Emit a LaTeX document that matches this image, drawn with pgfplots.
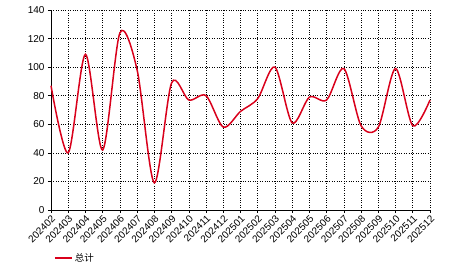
\documentclass[border=0pt]{standalone}
\usepackage{pgfplots}
\pgfplotsset{compat=1.18}
\usetikzlibrary{calc}
\usepackage{fontspec}
\setmainfont{Liberation Sans}
\newfontfamily\cjk{Noto Sans CJK SC}
\definecolor{linered}{HTML}{D9001B}
\begin{document}
\begin{tikzpicture}
\begin{axis}[
  scale only axis,
  width=379pt, height=200pt,
  xmin=0, xmax=22, ymin=0, ymax=140,
  ytick={0,20,...,140},
  xtick={0,...,22},
  xticklabels={202402,202403,202404,202405,202406,202407,202408,202409,202410,202411,202412,202501,202502,202503,202504,202505,202506,202507,202508,202509,202510,202511,202512},
  x tick label style={rotate=45, anchor=north east, font=\fontsize{10}{11}\selectfont, inner sep=1pt},
  y tick label style={font=\fontsize{10}{11}\selectfont},
  /pgf/number format/assume math mode=true,
  axis x line*=bottom, axis y line*=left,
  axis line style={black, line width=0.8pt, -},
  tick style={black, line width=0.6pt},
  tick align=outside,
  major tick length=3pt,
  grid=major,
  grid style={black, dotted, line width=0.6pt},
  legend style={draw=none, at={(0.0,-0.24)}, anchor=west, font=\cjk\fontsize{9.5}{10}\selectfont, fill=none},
  legend cell align=left,
  clip=false,
]
\addplot[linered, line width=1.5pt, smooth, tension=0.5] coordinates {
(0,87) (1,40) (2,109) (3,42) (4,124) (5,98) (6,19) (7,89) (8,77) (9,80) (10,58)
(11,69) (12,78) (13,100) (14,61) (15,79) (16,77) (17,99) (18,59) (19,58) (20,99) (21,59) (22,77)
};
\addlegendentry{总计}
\end{axis}
\pgfresetboundingbox
\path (current axis.south west) ++(-51pt,-62pt) rectangle ($(current axis.north east)+(36pt,10pt)$);
\end{tikzpicture}
\end{document}
